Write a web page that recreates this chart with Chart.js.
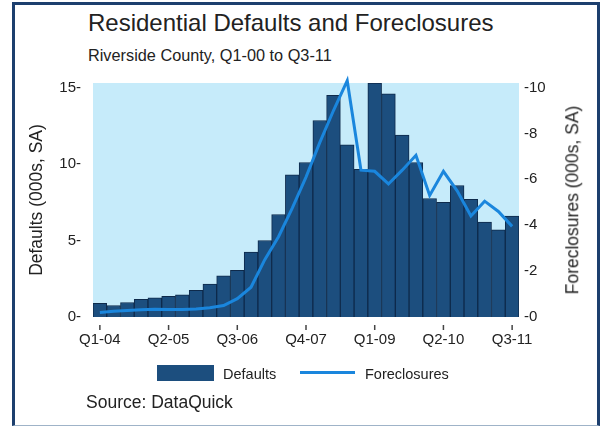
<!DOCTYPE html>
<html>
<head>
<meta charset="utf-8">
<script src="https://cdn.jsdelivr.net/npm/chart.js@4/dist/chart.umd.min.js"></script>
<style>
  html, body { margin: 0; padding: 0; background: #fff; }
  body { width: 601px; height: 427px; position: relative; overflow: hidden;
         font-family: "Liberation Sans", Arial, sans-serif; color: #222; }
  .frame { position: absolute; left: 12px; top: 2px; width: 582px; height: 420px;
           border: 3px solid #1d3f6e; border-bottom: 1px solid #9fb3c8; }
  .txt { position: absolute; line-height: 1; white-space: nowrap; }
  .rtitle { position: absolute; left: 572.5px; top: 200px; line-height: 1; white-space: nowrap;
            font-size: 17.5px; transform: translate(-50%, -50%) rotate(-90deg); }
  #chartWrap { position: absolute; left: 0; top: 0; width: 601px; height: 427px; }
  .legend-box { position: absolute; left: 157px; top: 365px; width: 57px; height: 16px; background: #1c4e7e; }
  .legend-line { position: absolute; left: 300px; top: 371px; width: 55px; height: 3px; background: #1a86dd; }
</style>
</head>
<body>
<div class="frame"></div>
<div class="txt" style="left:88px; top:11px; font-size:24px;">Residential Defaults and Foreclosures</div>
<div class="txt" style="left:88px; top:46.5px; font-size:16.3px;">Riverside County, Q1-00 to Q3-11</div>
<div id="chartWrap"><canvas id="trendChart"></canvas></div>
<div class="rtitle">Foreclosures (000s, SA)</div>
<div class="legend-box"></div>
<div class="txt" style="left:223px; top:366.5px; font-size:14.5px;">Defaults</div>
<div class="legend-line"></div>
<div class="txt" style="left:365px; top:366.5px; font-size:14.5px;">Foreclosures</div>
<div class="txt" style="left:86px; top:393.5px; font-size:17.5px;">Source: DataQuick</div>

<script>
// ── Data (thousands, seasonally adjusted) ──────────────────────────────────
const quarters = [
  "Q1-04", "Q2-04", "Q3-04", "Q4-04",
  "Q1-05", "Q2-05", "Q3-05", "Q4-05",
  "Q1-06", "Q2-06", "Q3-06", "Q4-06",
  "Q1-07", "Q2-07", "Q3-07", "Q4-07",
  "Q1-08", "Q2-08", "Q3-08", "Q4-08",
  "Q1-09", "Q2-09", "Q3-09", "Q4-09",
  "Q1-10", "Q2-10", "Q3-10", "Q4-10",
  "Q1-11", "Q2-11", "Q3-11",
];

const defaults = [
  0.9, 0.75, 0.95, 1.15, 1.25, 1.35, 1.45, 1.75,
  2.15, 2.7, 3.05, 4.25, 5.0, 6.7, 9.3, 10.1,
  12.85, 14.5, 11.25, 9.65, 15.3, 14.6, 11.9, 10.1,
  7.75, 7.5, 8.6, 7.7, 6.2, 5.7, 6.6,
];

const foreclosures = [
  0.2, 0.25, 0.28, 0.32, 0.34, 0.33, 0.33, 0.35,
  0.4, 0.5, 0.8, 1.3, 2.5, 3.5, 4.75, 6.1,
  7.6, 9.0, 10.3, 6.4, 6.35, 5.8, 6.4, 7.05,
  5.3, 6.35, 5.5, 4.4, 5.05, 4.6, 3.95,
];

const leftTicks = [0, 5, 10, 15];
const rightTicks = [0, 2, 4, 6, 8, 10];

const FONT = "'Liberation Sans', Arial, sans-serif";
const TEXT = "#222";

// light blue plot background + detached x tick marks
const plotDecor = {
  id: "plotDecor",
  beforeDatasetsDraw(chart) {
    const { ctx, chartArea: a } = chart;
    ctx.save();
    ctx.fillStyle = "#c6ebfa";
    ctx.fillRect(a.left, a.top, a.right - a.left, a.bottom - a.top);
    ctx.restore();
  },
  afterDraw(chart) {
    const { ctx, chartArea: a } = chart;
    const x = chart.scales.x;
    ctx.save();
    ctx.strokeStyle = "#444";
    ctx.lineWidth = 1.5;
    quarters.forEach((q, i) => {
      if (i % 5 !== 0) return;
      const px = x.getPixelForValue(i);
      ctx.beginPath();
      ctx.moveTo(px, a.bottom + 8);
      ctx.lineTo(px, a.bottom + 13);
      ctx.stroke();
    });
    ctx.restore();
  },
};

const ctx = document.getElementById("trendChart").getContext("2d");
new Chart(ctx, {
  data: {
    labels: quarters,
    datasets: [
      {
        type: "line",
        label: "Foreclosures",
        data: foreclosures,
        yAxisID: "y1",
        borderColor: "#1a86dd",
        borderWidth: 3,
        pointRadius: 0,
        tension: 0,
        clip: false,
        order: 1,
      },
      {
        type: "bar",
        label: "Defaults",
        data: defaults,
        yAxisID: "y",
        backgroundColor: "#1c4e7e",
        borderColor: "#0e2a4b",
        borderWidth: 1,
        barPercentage: 1,
        categoryPercentage: 1,
        order: 2,
      },
    ],
  },
  options: {
    responsive: true,
    maintainAspectRatio: false,
    animation: false,
    layout: { padding: { left: 23, right: 14, top: 83, bottom: 70 } },
    plugins: {
      legend: { display: false }, // HTML legend instead
      tooltip: { enabled: false },
    },
    scales: {
      x: {
        grid: { display: false, drawTicks: false },
        border: { display: false },
        ticks: {
          autoSkip: false,
          maxRotation: 0,
          padding: 14,
          color: TEXT,
          font: { family: FONT, size: 15 },
          callback: (v, i) => (i % 5 === 0 ? quarters[i] : ""),
        },
        afterFit: (s) => { s.height = 40; },
      },
      y: {
        position: "left",
        min: 0,
        max: 15.3,
        grid: { display: false, drawTicks: false },
        border: { display: false },
        afterBuildTicks: (s) => { s.ticks = leftTicks.map((v) => ({ value: v })); },
        ticks: {
          padding: 12,
          color: TEXT,
          font: { family: FONT, size: 15 },
          callback: (v) => v + "-",
        },
        title: {
          display: true,
          text: "Defaults (000s, SA)",
          color: TEXT,
          font: { family: FONT, size: 17.5 },
        },
        afterFit: (s) => { s.width = 70; },
      },
      y1: {
        position: "right",
        min: 0,
        max: 10.2,
        grid: { display: false, drawTicks: false },
        border: { display: false },
        afterBuildTicks: (s) => { s.ticks = rightTicks.map((v) => ({ value: v })); },
        ticks: {
          padding: 5,
          color: TEXT,
          font: { family: FONT, size: 15 },
          callback: (v) => "-" + v,
        },
        // title drawn in HTML (reads bottom-to-top like the original)
        afterFit: (s) => { s.width = 68; },
      },
    },
  },
  plugins: [plotDecor],
});
</script>
</body>
</html>
